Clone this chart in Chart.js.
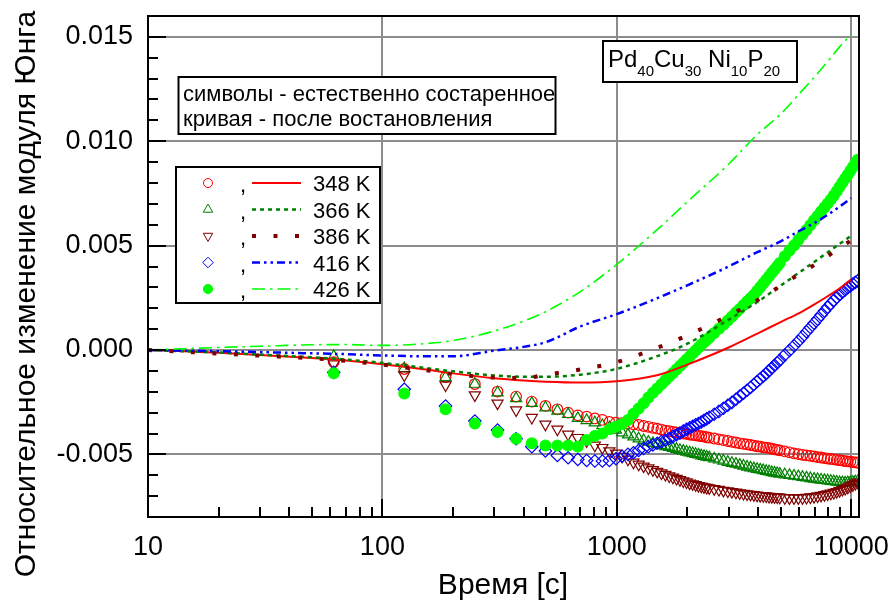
<!DOCTYPE html>
<html>
<head>
<meta charset="utf-8">
<title>Модуль Юнга</title>
<script src="https://cdn.jsdelivr.net/npm/chart.js@4.4.1/dist/chart.umd.min.js"></script>
<style>
  html, body { margin: 0; padding: 0; background: #fff; }
  canvas { display: block; }
</style>
</head>
<body>
<canvas id="ymChart" width="892" height="601"></canvas>
<script>
/**
 * 1. ДАННЫЕ
 */
// время выдержки естественно состаренных образцов, с
const tAged = [62,124,186,248,310,372,434,496,558,620,682,744,806,868,930,992,
  1054,1116,1178,1240,1302,1364,1426,1488,1550,1612,1674,1736,1798,1860,1922,1984,2046,2108,2170,2232,2294,2356,2418,2480,
  2604,2728,2852,2976,3100,3224,3348,3472,3596,3720,3844,3968,4092,4216,4340,4464,4588,4712,4836,4960,
  5208,5456,5704,5952,6200,6448,6696,6944,7192,7440,7688,7936,8184,8432,8680,8928,9176,9424,9672,9920,10168,10416,10664];

// символы - естественно состаренное
const sym348 = [-0.00058,-0.00091,-0.00130,-0.00163,-0.00199,-0.00223,-0.00247,-0.00268,-0.00284,-0.00300,-0.00313,-0.00319,-0.00328,-0.00335,-0.00345,-0.00348,
  -0.00351,-0.00354,-0.00356,-0.00359,-0.00364,-0.00368,-0.00373,-0.00377,-0.00381,-0.00386,-0.00389,-0.00392,-0.00395,-0.00397,-0.00400,-0.00402,-0.00405,-0.00407,-0.00409,-0.00411,-0.00413,-0.00415,-0.00418,-0.00420,
  -0.00424,-0.00428,-0.00432,-0.00436,-0.00440,-0.00443,-0.00447,-0.00450,-0.00452,-0.00455,-0.00458,-0.00461,-0.00463,-0.00466,-0.00468,-0.00470,-0.00473,-0.00476,-0.00478,-0.00481,
  -0.00486,-0.00490,-0.00495,-0.00499,-0.00502,-0.00505,-0.00507,-0.00510,-0.00513,-0.00515,-0.00518,-0.00520,-0.00522,-0.00524,-0.00526,-0.00528,-0.00530,-0.00532,-0.00534,-0.00535,-0.00537,-0.00538,-0.00540];
const sym366 = [-0.00030,-0.00088,-0.00131,-0.00163,-0.00204,-0.00232,-0.00255,-0.00276,-0.00292,-0.00308,-0.00327,-0.00337,-0.00348,-0.00361,-0.00372,-0.00383,
  -0.00396,-0.00406,-0.00415,-0.00425,-0.00433,-0.00441,-0.00447,-0.00452,-0.00457,-0.00462,-0.00466,-0.00471,-0.00475,-0.00480,-0.00484,-0.00488,-0.00492,-0.00495,-0.00499,-0.00502,-0.00506,-0.00509,-0.00512,-0.00515,
  -0.00521,-0.00526,-0.00531,-0.00537,-0.00542,-0.00546,-0.00551,-0.00555,-0.00560,-0.00564,-0.00568,-0.00571,-0.00574,-0.00577,-0.00580,-0.00583,-0.00586,-0.00589,-0.00591,-0.00594,
  -0.00597,-0.00600,-0.00603,-0.00606,-0.00609,-0.00612,-0.00615,-0.00618,-0.00620,-0.00622,-0.00624,-0.00626,-0.00628,-0.00630,-0.00632,-0.00634,-0.00635,-0.00636,-0.00635,-0.00634,-0.00633,-0.00631,-0.00630];
const sym386 = [-0.00067,-0.00120,-0.00168,-0.00216,-0.00255,-0.00288,-0.00324,-0.00356,-0.00380,-0.00404,-0.00420,-0.00436,-0.00457,-0.00468,-0.00484,-0.00495,
  -0.00510,-0.00524,-0.00538,-0.00548,-0.00557,-0.00566,-0.00574,-0.00582,-0.00590,-0.00597,-0.00604,-0.00610,-0.00616,-0.00622,-0.00628,-0.00633,-0.00638,-0.00642,-0.00646,-0.00650,-0.00653,-0.00656,-0.00659,-0.00661,
  -0.00665,-0.00669,-0.00673,-0.00676,-0.00679,-0.00682,-0.00685,-0.00688,-0.00690,-0.00692,-0.00694,-0.00696,-0.00698,-0.00699,-0.00700,-0.00702,-0.00703,-0.00704,-0.00705,-0.00706,
  -0.00708,-0.00709,-0.00709,-0.00709,-0.00708,-0.00707,-0.00705,-0.00703,-0.00700,-0.00697,-0.00694,-0.00690,-0.00687,-0.00683,-0.00679,-0.00674,-0.00669,-0.00664,-0.00658,-0.00652,-0.00646,-0.00640,-0.00634];
const sym416 = [-0.00107,-0.00188,-0.00268,-0.00340,-0.00383,-0.00425,-0.00463,-0.00484,-0.00505,-0.00516,-0.00524,-0.00529,-0.00532,-0.00532,-0.00529,-0.00521,
  -0.00509,-0.00500,-0.00492,-0.00481,-0.00472,-0.00463,-0.00455,-0.00447,-0.00439,-0.00432,-0.00424,-0.00415,-0.00406,-0.00398,-0.00388,-0.00380,-0.00373,-0.00365,-0.00358,-0.00352,-0.00345,-0.00337,-0.00330,-0.00322,
  -0.00308,-0.00294,-0.00279,-0.00265,-0.00251,-0.00236,-0.00221,-0.00207,-0.00193,-0.00180,-0.00165,-0.00151,-0.00138,-0.00125,-0.00113,-0.00099,-0.00086,-0.00073,-0.00061,-0.00049,
  -0.00024,-0.00002,0.00020,0.00042,0.00064,0.00087,0.00108,0.00128,0.00148,0.00168,0.00187,0.00205,0.00222,0.00238,0.00252,0.00265,0.00277,0.00288,0.00298,0.00307,0.00316,0.00324,0.00331];
const sym426 = [-0.00111,-0.00208,-0.00284,-0.00352,-0.00393,-0.00425,-0.00447,-0.00457,-0.00457,-0.00457,-0.00462,-0.00431,-0.00412,-0.00400,-0.00380,-0.00367,
  -0.00355,-0.00335,-0.00305,-0.00280,-0.00255,-0.00228,-0.00205,-0.00184,-0.00164,-0.00145,-0.00127,-0.00110,-0.00093,-0.00077,-0.00061,-0.00046,-0.00031,-0.00016,-0.00002,0.00012,0.00025,0.00037,0.00048,0.00059,
  0.00081,0.00102,0.00121,0.00141,0.00161,0.00180,0.00197,0.00215,0.00232,0.00248,0.00264,0.00283,0.00301,0.00319,0.00336,0.00353,0.00370,0.00386,0.00401,0.00417,
  0.00449,0.00477,0.00501,0.00527,0.00552,0.00575,0.00599,0.00621,0.00642,0.00663,0.00683,0.00702,0.00721,0.00740,0.00761,0.00782,0.00802,0.00822,0.00840,0.00859,0.00877,0.00894,0.00911];

// кривая - после востановления
const tCurve = [10,20,30,50,70,100,150,200,300,400,500,700,1000,1500,2000,3000,4000,5000,6000,7000,8000,9000,10000];
const cur348 = [0,-0.00013,-0.00024,-0.00038,-0.00050,-0.00068,-0.00092,-0.00112,-0.00135,-0.00146,-0.00152,-0.00156,-0.00150,-0.00120,-0.00070,0.00012,0.00080,0.00134,0.00177,0.00220,0.00260,0.00298,0.00338];
const cur366 = [0,-0.00012,-0.00022,-0.00035,-0.00046,-0.00062,-0.00085,-0.00102,-0.00122,-0.00128,-0.00128,-0.00118,-0.00090,-0.00028,0.00030,0.00145,0.00232,0.00308,0.00371,0.00424,0.00470,0.00511,0.00547];
const cur386 = [0,-0.00017,-0.00027,-0.00040,-0.00052,-0.00070,-0.00095,-0.00115,-0.00132,-0.00134,-0.00118,-0.00093,-0.00058,0.00012,0.00070,0.00165,0.00240,0.00307,0.00364,0.00409,0.00452,0.00493,0.00524];
const cur416 = [0,-0.00006,-0.00010,-0.00016,-0.00020,-0.00026,-0.00030,-0.00030,-0.00003,0.00015,0.00038,0.00113,0.00172,0.00250,0.00310,0.00400,0.00470,0.00520,0.00570,0.00610,0.00650,0.00690,0.00728];
const cur426 = [0,0.00012,0.00018,0.00025,0.00026,0.00022,0.00030,0.00045,0.00091,0.00138,0.00185,0.00280,0.00410,0.00580,0.00710,0.00890,0.01035,0.01130,0.01227,0.01310,0.01386,0.01457,0.01510];

// деления осей и подписи
const xTicks = [10, 100, 1000, 10000];
const yTicks = [-0.005, 0, 0.005, 0.010, 0.015];
const tempLabels = ['348 K', '366 K', '386 K', '416 K', '426 K'];
const noteLines = ['символы - естественно состаренное', 'кривая - после востановления'];
const alloyParts = [['Pd', '40'], ['Cu', '30'], [' Ni', '10'], ['P', '20']];

/**
 * 2. ОФОРМЛЕНИЕ
 */
const FONT = "'Liberation Sans', Arial, sans-serif";
const GRID = '#8c8c8c';
const RED = '#ff0000', GREEN = '#008000', MAROON = '#800000', BLUE = '#0000ff', LIME = '#00ff00';

Chart.defaults.font.family = FONT;
Chart.defaults.color = '#000';

const pts = (xs, ys) => xs.map((x, i) => ({ x: x, y: ys[i] }));

// стили кривых (они же - образцы линий в легенде)
const lineStyles = [
  { color: RED,    width: 2,   dash: [] },
  { color: GREEN,  width: 2.5, dash: [4, 4] },
  { color: MAROON, width: 4,   dash: [4, 17.5] },
  { color: BLUE,   width: 2.5, dash: [8, 4, 2.5, 4, 2.5, 4] },
  { color: LIME,   width: 1.6, dash: [13, 5, 2.5, 5] }
];
// стили символов
const markStyles = [
  { color: RED,    style: 'circle',   rotation: 0,   radius: 5.3, fill: 'rgba(0,0,0,0)' },
  { color: GREEN,  style: 'triangle', rotation: 0,   radius: 6.4, fill: 'rgba(0,0,0,0)' },
  { color: MAROON, style: 'triangle', rotation: 180, radius: 6.4, fill: 'rgba(0,0,0,0)' },
  { color: BLUE,   style: 'rectRot',  rotation: 0,   radius: 6.2, fill: 'rgba(0,0,0,0)' },
  { color: LIME,   style: 'circle',   rotation: 0,   radius: 5.4, fill: LIME }
];

const curveData = [cur348, cur366, cur386, cur416, cur426];
const symData = [sym348, sym366, sym386, sym416, sym426];

const datasets = [];
curveData.forEach((ys, i) => {
  const s = lineStyles[i];
  datasets.push({
    label: tempLabels[i],
    data: pts(tCurve, ys),
    showLine: true,
    borderColor: s.color,
    borderWidth: s.width,
    borderDash: s.dash,
    borderCapStyle: 'butt',
    cubicInterpolationMode: 'monotone',
    pointRadius: 0,
    order: -1 - i   // кривые поверх символов, 426 K сверху
  });
});
symData.forEach((ys, i) => {
  const m = markStyles[i];
  datasets.push({
    label: tempLabels[i],
    data: pts(tAged, ys),
    showLine: false,
    pointStyle: m.style,
    rotation: m.rotation,
    pointRadius: m.radius,
    pointBorderWidth: 1.2,
    pointBorderColor: m.color,
    pointBackgroundColor: m.fill,
    order: 5 - i   // 348 K внизу, 426 K сверху
  });
});

/**
 * 3. ПЛАГИНЫ: засечки, рамка, подписи, легенда
 */
const frameAndTicks = {
  id: 'frameAndTicks',
  afterDatasetsDraw(chart) {
    const { ctx, chartArea: a, scales: { x, y } } = chart;
    ctx.save();
    ctx.strokeStyle = '#000';
    ctx.lineWidth = 2;
    ctx.beginPath();
    // засечки по оси Y через 0.001
    for (let k = -8; k <= 16; k++) {
      const py = Math.round(y.getPixelForValue(k / 1000));
      const len = k % 5 === 0 ? 18 : 10;
      ctx.moveTo(a.left, py);
      ctx.lineTo(a.left + len, py);
    }
    // логарифмические засечки по оси X
    for (let d = 10; d <= 10000; d *= 10) {
      for (let m = 1; m <= 9; m++) {
        const v = d * m;
        if (v > x.max) break;
        const px = Math.round(x.getPixelForValue(v));
        const len = m === 1 ? 18 : 10;
        ctx.moveTo(px, a.bottom);
        ctx.lineTo(px, a.bottom - len);
      }
    }
    ctx.stroke();
    ctx.strokeRect(a.left, a.top, a.right - a.left, a.bottom - a.top);
    ctx.restore();
  }
};

const annotations = {
  id: 'annotations',
  afterDraw(chart) {
    const ctx = chart.ctx;
    ctx.save();
    ctx.fillStyle = '#000';
    ctx.strokeStyle = '#000';
    ctx.textBaseline = 'alphabetic';

    // названия осей
    ctx.font = '30px ' + FONT;
    ctx.textAlign = 'center';
    ctx.fillText('Время [с]', 503, 594);
    ctx.save();
    ctx.translate(35, 294);
    ctx.rotate(-Math.PI / 2);
    ctx.fillText('Относительное изменение модуля Юнга', 0, 0);
    ctx.restore();

    // пояснение к обозначениям
    ctx.textAlign = 'left';
    ctx.lineWidth = 2;
    ctx.fillStyle = '#fff';
    ctx.fillRect(178.5, 77, 377, 57);
    ctx.strokeRect(178.5, 77, 377, 57);
    ctx.fillStyle = '#000';
    ctx.font = '22px ' + FONT;
    ctx.fillText(noteLines[0], 183, 101);
    ctx.fillText(noteLines[1], 183, 126);

    // состав сплава
    ctx.fillStyle = '#fff';
    ctx.fillRect(603, 41, 194, 41);
    ctx.strokeRect(603, 41, 194, 41);
    ctx.fillStyle = '#000';
    let cx = 608;
    alloyParts.forEach(([el, idx]) => {
      ctx.font = '24px ' + FONT;
      ctx.fillText(el, cx, 67);
      cx += ctx.measureText(el).width;
      ctx.font = '15px ' + FONT;
      ctx.fillText(idx, cx, 76);
      cx += ctx.measureText(idx).width;
    });

    // легенда
    ctx.fillStyle = '#fff';
    ctx.fillRect(176, 167, 204, 136);
    ctx.strokeRect(176, 167, 204, 136);
    ctx.font = '22px ' + FONT;
    tempLabels.forEach((lab, i) => {
      const cy = 183 + i * 26.5;
      const m = markStyles[i], s = lineStyles[i];
      ctx.strokeStyle = m.color;
      ctx.fillStyle = m.fill;
      ctx.lineWidth = 1;
      ctx.setLineDash([]);
      Chart.helpers.drawPoint(ctx, { pointStyle: m.style, rotation: m.rotation, radius: m.radius * 0.85, borderWidth: 1 }, 208, cy);
      ctx.fillStyle = '#000';
      ctx.fillText(',', 240, cy + 9);
      ctx.strokeStyle = s.color;
      ctx.lineWidth = s.width;
      ctx.setLineDash(s.dash);
      ctx.lineCap = 'butt';
      ctx.beginPath();
      ctx.moveTo(252, cy);
      ctx.lineTo(301, cy);
      ctx.stroke();
      ctx.setLineDash([]);
      ctx.fillText(lab, 313, cy + 8);
    });
    ctx.restore();
  }
};

/**
 * 4. ГРАФИК
 */
const ctx = document.getElementById('ymChart').getContext('2d');
const ymChart = new Chart(ctx, {
  type: 'scatter',
  data: { datasets: datasets },
  options: {
    responsive: false,
    animation: false,
    events: [],
    layout: { padding: { top: 16, right: 33, bottom: 0, left: 0 } },
    plugins: { legend: { display: false }, tooltip: { enabled: false } },
    scales: {
      x: {
        type: 'logarithmic',
        min: 10,
        max: 10800,
        afterBuildTicks: s => { s.ticks = xTicks.map(v => ({ value: v })); },
        afterFit: s => { s.height = 84; s.paddingLeft = 0; s.paddingRight = 0; },
        grid: { color: GRID, lineWidth: 2, drawTicks: false },
        border: { color: '#000', width: 2 },
        ticks: {
          color: '#000', font: { size: 27 }, padding: 14,
          maxRotation: 0, autoSkip: false,
          callback: v => String(v)
        }
      },
      y: {
        min: -0.008,
        max: 0.016,
        afterBuildTicks: s => { s.ticks = yTicks.map(v => ({ value: v })); },
        afterFit: s => { s.width = 148; s.paddingTop = 0; s.paddingBottom = 0; },
        grid: { color: GRID, lineWidth: 2, drawTicks: false },
        border: { color: '#000', width: 2 },
        ticks: {
          color: '#000', font: { size: 27 }, padding: 15,
          callback: v => Number(v).toFixed(3)
        }
      }
    }
  },
  plugins: [frameAndTicks, annotations]
});
</script>
</body>
</html>
